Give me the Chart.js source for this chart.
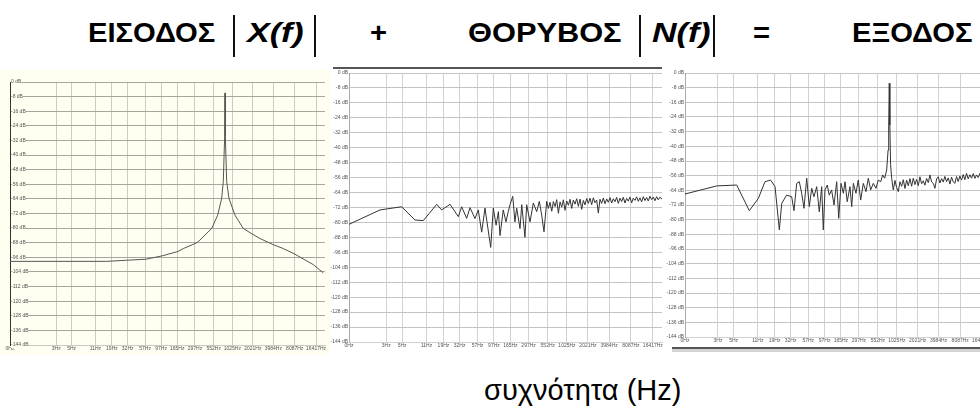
<!DOCTYPE html>
<html>
<head>
<meta charset="utf-8">
<script src="https://cdn.jsdelivr.net/npm/chart.js@4/dist/chart.umd.min.js"></script>
<style>
  html, body { margin: 0; padding: 0; background: #fff; }
  body { width: 980px; height: 409px; position: relative; overflow: hidden;
         font-family: "Liberation Sans", Arial, sans-serif; }
  .t { position: absolute; top: 16px; font-weight: bold; font-size: 27px; line-height: 34px;
       color: #000; white-space: nowrap; transform-origin: 0 50%; transform: scaleX(1.08); }
  .t.m { transform: scaleX(1.26); font-style: italic; }
  .bar { position: absolute; top: 15px; width: 2px; height: 42px; background: #111; }
  canvas { position: absolute; }
  #c1 { left: 0; top: 70px; background: #fffef0; }
  #c2 { left: 330px; top: 66px; background: #fff; }
  #c3 { left: 666px; top: 66px; background: #fff; }
  .rule { position: absolute; }
  #xlabel { position: absolute; left: 484px; top: 374px; font-size: 29px; line-height: 32px; color: #000; }
</style>
</head>
<body>

<div class="t" style="left:88px">ΕΙΣΟΔΟΣ</div>
<div class="bar" style="left:233px"></div>
<div class="t m" style="left:247px">X(f)</div>
<div class="bar" style="left:314px"></div>
<div class="t" style="left:370px">+</div>

<div class="t" style="left:468px;transform:scaleX(1.14)">ΘΟΡΥΒΟΣ</div>
<div class="bar" style="left:639px"></div>
<div class="t m" style="left:652px">N(f)</div>
<div class="bar" style="left:713px"></div>
<div class="t" style="left:753px">=</div>

<div class="t" style="left:852px">ΕΞΟΔΟΣ</div>

<canvas id="c1" width="330" height="285"></canvas>
<canvas id="c2" width="335" height="285"></canvas>
<canvas id="c3" width="330" height="280"></canvas>

<div class="rule" style="left:333px;top:67px;width:329px;height:2px;background:#555"></div>
<div class="rule" style="left:672px;top:347px;width:308px;height:2px;background:#555"></div>
<div class="rule" style="left:672px;top:349px;width:308px;height:3px;background:#d4d4d4"></div>

<div id="xlabel">συχνότητα (Hz)</div>

<script>
// axis ticks (shared by the three spectra)
const hzTicks = [0, 3, 5, 11, 19, 32, 57, 97, 165, 297, 552, 1025, 2021, 3984, 8087, 16417];
const dbTicks = [0, -8, -16, -24, -32, -40, -48, -56, -64, -72, -80, -88, -96, -104, -112, -120, -128, -136, -144];

// input |X(f)| : single tone
const inHz = [0.65, 16, 59, 100, 169, 202, 318, 351, 517, 631, 720, 760, 795, 804, 813, 850, 917, 1119, 1473,
  2032, 2562, 3939, 5541, 7898, 14960, 20840];
const inDb = [-98.2, -98.2, -97, -95.2, -92.8, -91.2, -88, -86.5, -80.2, -72.9, -63.7, -54.6, -29.5, -6, -29.5, -54.6, -63.7, -72.9, -80.2,
  -83.5, -85.7, -89, -91.2, -94, -100, -104.5];

// noise |N(f)|
const noiseHz = [0.9, 2.45, 4.93, 7.58, 9.91, 15.3, 17.9, 23.5, 30.7, 34.2, 40.2, 44.8, 52.6, 58.5, 65.3, 72.7, 76.8,
  87.4, 95, 104, 112, 118, 131, 143, 154, 163, 178, 191, 202, 225, 238, 264, 279, 311, 346, 386, 420, 453, 488,
  533, 562, 594, 627, 661, 698, 736, 777, 820, 865, 913, 963, 1016, 1073, 1132, 1195, 1260, 1330, 1403, 1481,
  1563, 1649, 1740, 1836, 1937, 2044, 2157, 2277, 2402, 2535, 2675, 2823, 2978, 3143, 3316, 3500, 3693, 3897,
  4112, 4340, 4579, 4832, 5098, 5380, 5677, 5991, 6321, 6671, 7039, 7428, 7838, 8272, 8727, 9210, 9718, 10260,
  10820, 11420, 12050, 12720, 13420, 14160, 14940, 15770, 16630, 17550, 18520, 19540, 20620, 22050];
const noiseDb = [-81, -73.3, -71.6, -78.7, -79, -70.3, -73.3, -70.3, -76.9, -71.6, -77.8, -72.1, -77.9, -73.3, -85.2, -72.3, -78.7,
  -93.4, -72.3, -81.5, -74.2, -87, -73.3, -79.7, -74.2, -70.5, -66, -79.7, -72.3, -83.3, -70.5, -87.9, -70.5, -79.7, -69.6, -74.2, -68.7, -76, -85,
  -68.7, -72.5, -69.2, -74, -68.8, -71.5, -67.8, -75.1, -69, -71.8, -67.9, -73.5, -68.5, -70.8, -67.6, -72.5, -68, -70.2, -67.3, -71.4,
  -67.5, -73, -68.2, -70.6, -67.2, -69.8, -67, -70.5, -66.8, -69.5, -68, -75, -67.6, -69.8, -66.9, -70, -67.4, -69.2,
  -66.7, -69.6, -67.3, -68.9, -66.6, -69.8, -67, -68.8, -66.5, -69.6, -67.1, -68.6, -66.4, -69.5, -67, -68.2, -66.3, -68.7,
  -66.8, -69, -66.2, -68.3, -66.6, -68.5, -66, -67.8, -66.4, -68.4, -66.2, -67.9, -66.5, -67.5];

// output |X(f)+N(f)|
const outHz = [1.025, 2.88, 5.53, 8.34, 11.2, 13.9, 16.7, 19.3, 22.2, 24.0, 28.2, 33.2, 35.8, 39.1, 42.6, 46.0, 49.6,
  54.2, 59.0, 63.8, 68.7, 75.1, 81.7, 88.3, 93.1, 98.4, 106, 113, 122, 132, 144, 154, 166, 179, 189, 203, 222, 235,
  248, 270, 291, 315, 343, 374, 404, 436, 475, 519, 559, 605, 645, 689, 735, 770, 785, 800, 815, 835, 865,
  912, 963, 1017, 1073, 1133, 1197, 1263, 1334, 1408, 1487, 1570, 1657, 1750, 1847, 1950, 2059, 2174, 2295,
  2423, 2558, 2701, 2852, 3011, 3179, 3356, 3543, 3741, 3950, 4170, 4403, 4648, 4908, 5181, 5470, 5776, 6098,
  6438, 6797, 7176, 7577, 7999, 8446, 8917, 9414, 9939, 10490, 11080, 11700, 12350, 13040, 13770, 14540, 15350,
  16200, 17110, 18060, 19070, 20130, 21260, 22050];
const outDb = [-66, -61.6, -61.1, -75.1, -68.4, -59.3, -58.4, -62, -85.6, -71.1, -66.6, -67.5, -75.1, -60.2, -59.3, -65.6, -73.8,
  -57.4, -72.9, -62.9, -67.5, -62, -75.7, -62, -85.6, -63.8, -61.1, -66.6, -63.8, -72, -59.3, -79.3, -60.2, -65.6, -59.3, -70.2, -62, -72.9,
  -60.2, -65.6, -58.4, -69.3, -60.2, -64.7, -57.4, -63.8, -60.2, -62.9, -58.4, -59.3, -55.6, -57.4, -52.9, -42, -28.4, -5.6, -28.4, -50, -57.4,
  -63.8, -58.6, -62.5, -64.7, -59.3, -61.8, -58.2, -63, -58.4, -61.5, -57.6, -61.8, -57.4, -60.9, -58, -61.5, -56.6, -60.4,
  -58.8, -61.2, -57.5, -59.8, -55.6, -59.4, -60.2, -62.9, -57.8, -56.6, -60, -57.6, -59.5, -56.4, -59.3, -57.2, -60.6, -56.8,
  -59.4, -60.2, -56.5, -59.2, -56.2, -58.4, -55.4, -58.2, -54.7, -57.8, -55.5, -57.4, -54.9, -57.5, -55.6, -57, -54.8,
  -56.9, -55.2, -57.3, -55, -56.8, -55.1, -55.6];

const tickFont = { family: "Liberation Sans", size: 5 };

function spectrum(id, hz, db, o) {
  return new Chart(document.getElementById(id), {
    type: "line",
    data: {
      datasets: [{
        data: hz.map((f, i) => ({ x: f, y: db[i] })),
        borderColor: o.line,
        borderWidth: 1,
        pointRadius: 0,
        tension: 0,
        fill: false
      }]
    },
    options: {
      responsive: false,
      animation: false,
      events: [],
      layout: { padding: o.pad },
      plugins: { legend: { display: false }, tooltip: { enabled: false } },
      scales: {
        x: {
          type: "logarithmic",
          min: o.minHz,
          max: 22050,
          afterBuildTicks: s => { s.ticks = hzTicks.map(v => ({ value: v || o.minHz })); },
          afterFit: s => { s.height = o.xh; },
          ticks: {
            autoSkip: false, maxRotation: 0, padding: 1, font: tickFont, color: "#555",
            callback: (v, i) => hzTicks[i] + "Hz"
          },
          grid: { color: o.vgrid, drawTicks: false },
          border: { color: o.vgrid }
        },
        y: {
          min: -144,
          max: 0,
          afterBuildTicks: s => { s.ticks = dbTicks.map(v => ({ value: v })); },
          afterFit: s => { s.width = o.yw; },
          ticks: {
            mirror: o.mirror, padding: 1, font: tickFont, color: "#555",
            showLabelBackdrop: o.mirror, backdropColor: o.bg, backdropPadding: 0,
            callback: v => v + " dB"
          },
          grid: { color: o.hgrid, drawTicks: false },
          border: { color: o.axis, width: 1 }
        }
      }
    }
  });
}

spectrum("c1", inHz, inDb, {
  minHz: 0.65, pad: { left: 10, top: 12, right: 5, bottom: 0 }, xh: 10, yw: 0, mirror: true,
  bg: "#fffef0", line: "#555", vgrid: "#cbcbc3", hgrid: "#a6a69e", axis: "#333"
});
spectrum("c2", noiseHz, noiseDb, {
  minHz: 0.9, pad: { left: 0, top: 7, right: 3, bottom: 0 }, xh: 9, yw: 19, mirror: false,
  bg: "#fff", line: "#333", vgrid: "#d2d2d2", hgrid: "#c4c4c4", axis: "#aaa"
});
spectrum("c3", outHz, outDb, {
  minHz: 1.025, pad: { left: 0, top: 7, right: 5, bottom: 0 }, xh: 9, yw: 19, mirror: false,
  bg: "#fff", line: "#333", vgrid: "#d2d2d2", hgrid: "#c4c4c4", axis: "#aaa"
});
</script>
</body>
</html>
